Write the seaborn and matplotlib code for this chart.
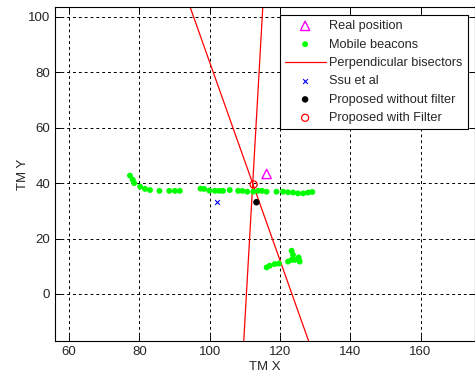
import matplotlib
matplotlib.use("Agg")
import matplotlib.pyplot as plt
import seaborn as sns
import pandas as pd

# Mobile beacon positions (TM coordinates)
BEACON_X = [77.3, 78.1, 78.5, 80.2, 81.6, 83.0, 85.7, 88.5, 90.1, 91.5,
            97.4, 98.4, 99.9, 101.5, 102.7, 103.8, 105.7, 108.1, 109.3, 110.7,
            112.4, 113.8, 114.9, 116.2, 119.0, 120.9, 122.3, 123.7, 125.1, 126.6,
            128.0, 129.2,
            116.2, 117.1, 118.5, 119.7, 122.3, 123.3, 124.2, 125.4, 123.7, 123.3,
            125.3, 125.6]
BEACON_Y = [42.7, 41.2, 40.0, 38.7, 37.9, 37.5, 37.2, 37.2, 37.2, 37.2,
            38.0, 37.9, 37.3, 37.2, 37.2, 37.2, 37.5, 37.2, 37.2, 36.9,
            36.9, 37.2, 37.2, 36.9, 36.9, 36.9, 36.7, 36.6, 36.3, 36.3,
            36.6, 36.8,
            9.6, 10.2, 10.8, 11.0, 11.7, 12.3, 12.3, 12.3, 14.1, 15.6,
            13.2, 11.7]

REAL_POS = (116.2, 43.3)
SSU_POS = (102.2, 33.3)
NO_FILTER_POS = (113.3, 33.1)
FILTER_POS = (112.5, 39.5)

# Perpendicular bisectors (two end points each)
BISECTOR1_X = [115.4, 109.55]
BISECTOR1_Y = [110.0, -20.0]
BISECTOR2_X = [92.6, 129.0]
BISECTOR2_Y = [110.0, -20.0]

XTICKS = [60, 80, 100, 120, 140, 160]
YTICKS = [0, 20, 40, 60, 80, 100]

sns.set_theme(style="white")
plt.rcParams["font.family"] = ["Liberation Sans", "DejaVu Sans"]

fig = plt.figure(figsize=(4.75, 3.72), dpi=100)
ax = fig.add_axes([0.116, 0.083, 0.884, 0.898])

beacons = pd.DataFrame({"x": BEACON_X, "y": BEACON_Y})

sns.scatterplot(x=[REAL_POS[0]], y=[REAL_POS[1]], ax=ax, marker="^", s=45,
                facecolor="none", edgecolor="#ff00ff", linewidth=1.0,
                label="Real position", zorder=5)
sns.scatterplot(data=beacons, x="x", y="y", ax=ax, color="#00ff00", s=18,
                edgecolor="none", label="Mobile beacons", zorder=3)
sns.lineplot(x=BISECTOR1_X, y=BISECTOR1_Y, ax=ax, sort=False, estimator=None,
             color="red", linewidth=0.9, label="Perpendicular bisectors", zorder=2)
sns.lineplot(x=BISECTOR2_X, y=BISECTOR2_Y, ax=ax, sort=False, estimator=None,
             color="red", linewidth=0.9, zorder=2)
sns.scatterplot(x=[SSU_POS[0]], y=[SSU_POS[1]], ax=ax, marker="x", s=12,
                color="blue", linewidth=0.8, label="Ssu et al", zorder=5)
sns.scatterplot(x=[NO_FILTER_POS[0]], y=[NO_FILTER_POS[1]], ax=ax, s=22,
                color="black", edgecolor="none", label="Proposed without filter",
                zorder=6)
sns.scatterplot(x=[FILTER_POS[0]], y=[FILTER_POS[1]], ax=ax, marker="o", s=26,
                facecolor="none", edgecolor="red", linewidth=0.9,
                label="Proposed with Filter", zorder=6)

ax.set_xlim(56, 175.5)
ax.set_ylim(-17, 103.5)
ax.set_xticks(XTICKS)
ax.set_yticks(YTICKS)
ax.grid(True, color="black", linestyle=(0, (3, 3)), linewidth=0.7)
ax.set_axisbelow(True)
for sp in ax.spines.values():
    sp.set_color("black")
    sp.set_linewidth(0.8)
ax.tick_params(direction="in", length=4, width=0.7, colors="black",
               labelcolor="#262626", labelsize=9.5, top=True, right=True,
               bottom=True, left=True)
ax.set_xlabel("TM X", fontsize=9.5, color="#262626", labelpad=2)
ax.set_ylabel("TM Y", fontsize=9.5, color="#262626", labelpad=-1)

leg = ax.legend(loc="upper right", bbox_to_anchor=(0.983, 0.976),
                borderaxespad=0, fontsize=9.2, frameon=True, fancybox=False,
                edgecolor="black", framealpha=1, handlelength=3.2,
                handletextpad=0.3, labelspacing=0.5, borderpad=0.4)
leg.get_frame().set_linewidth(0.8)

fig.savefig("out.png", dpi=100)
